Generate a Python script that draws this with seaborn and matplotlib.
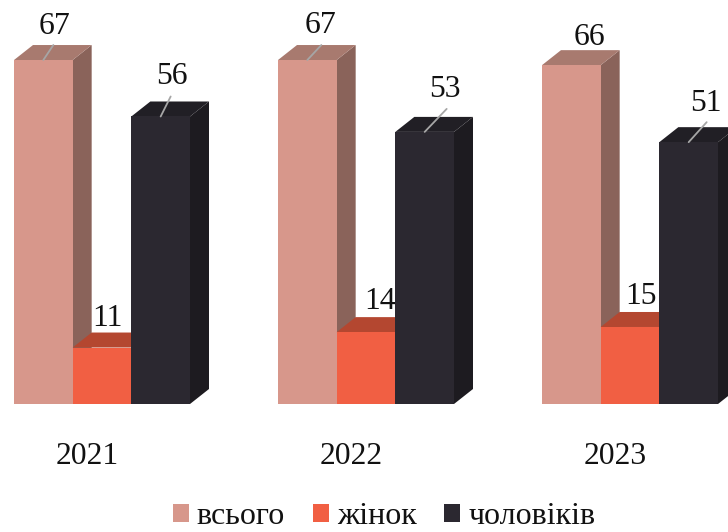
import matplotlib
matplotlib.use('Agg')
import matplotlib.pyplot as plt
from matplotlib.transforms import ScaledTranslation
import pandas as pd
import seaborn as sns

years = ['2021', '2022', '2023']
groups = ['всього', 'жінок', 'чоловіків']
total = [67, 67, 66]
women = [11, 14, 15]
men = [56, 53, 51]

# Colours: front, top and side of each bar
front_colors = ['#D7978B', '#F15F43', '#2B2830']
top_colors = ['#A87A6F', '#B44730', '#211F25']
side_colors = ['#8A635A', '#A87A6F', '#1D1B20']

# Label and leader offsets from the top centre of the bar, in pixels
label_offsets = [[(11.5, 33.5), (13, 34.5), (18, 27.5)],
                 [(5, 29.5), (14, 31), (11, 30)],
                 [(11, 39.5), (20.5, 42), (17.5, 39)]]
leader_offsets = [[(10, 15), (14, 15), None],
                  [None, None, None],
                  [(10, 20), (22, 23), (18, 20)]]

df = pd.DataFrame({
    'year': years * 3,
    'group': [g for g in groups for _ in years],
    'value': total + women + men,
})

sns.set_theme(style='white')
plt.rcParams['font.family'] = ['Liberation Serif', 'DejaVu Serif']

fig = plt.figure(figsize=(7.28, 5.32), dpi=100)
ax = fig.add_axes([0, 128 / 532, 1, 404 / 532])

sns.barplot(data=df, x='year', y='value', hue='group', order=years, hue_order=groups,
            palette=front_colors, saturation=1, width=2 / 3, gap=0, linewidth=0, ax=ax)

ax.set_xlim(-102 / 264, 626 / 264)
ax.set_ylim(0, 404 / 5.134)

# Depth of the 3D effect in data units
dx = 19 / 264
dy = 15 / 5.134

for i, bars in enumerate(ax.containers):
    for j, bar in enumerate(bars):
        x0 = bar.get_x()
        x1 = x0 + bar.get_width()
        v = bar.get_height()
        bar.set_zorder(3 + i)
        ax.fill([x1, x1 + dx, x1 + dx, x1], [0, dy, v + dy, v], color=side_colors[i],
                lw=0, zorder=2.5 + i, clip_on=False)
        ax.fill([x0, x1, x1 + dx, x0 + dx], [v, v, v + dy, v + dy], color=top_colors[i],
                lw=0, zorder=2.5 + i, clip_on=False)

        cx = (x0 + x1) / 2
        ax.annotate(f'{v:.0f}', xy=(cx, v), xytext=label_offsets[i][j], textcoords='offset pixels',
                    ha='center', va='center', fontsize=22.8, color='#111111', zorder=10,
                    annotation_clip=False)
        if leader_offsets[i][j] is not None:
            ax.annotate('', xy=(cx, v), xytext=leader_offsets[i][j], textcoords='offset pixels',
                        arrowprops=dict(arrowstyle='-', color='#A6A6A6', lw=1.3, shrinkA=0, shrinkB=0),
                        zorder=10, annotation_clip=False)

ax.set_xlabel('')
ax.set_ylabel('')
ax.set_yticks([])
ax.tick_params(axis='x', length=0, pad=27.3, labelsize=22.8, labelcolor='#111111')
sns.despine(ax=ax, left=True, bottom=True)

# The year labels sit left of the group centre
shift = ScaledTranslation(-15 / 100, 0, fig.dpi_scale_trans)
for label in ax.get_xticklabels():
    label.set_transform(label.get_transform() + shift)

ax.legend(*ax.get_legend_handles_labels(), loc='center', bbox_to_anchor=(384 / 728, 15 / 532),
          bbox_transform=fig.transFigure, ncol=3, frameon=False, fontsize=23,
          handlelength=0.5, handleheight=0.5, handletextpad=0.25, columnspacing=0.87,
          borderpad=0, labelcolor='#111111')

fig.savefig('out.png', dpi=100)
